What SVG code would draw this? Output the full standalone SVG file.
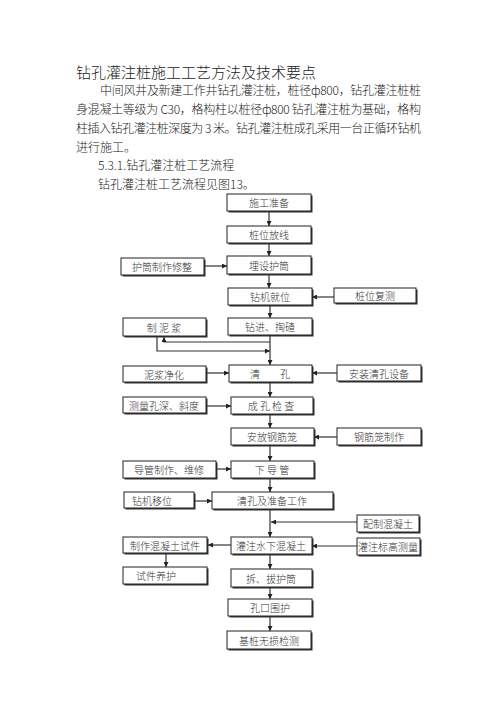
<svg xmlns="http://www.w3.org/2000/svg" width="496" height="702" viewBox="0 0 496 702">
<defs>
<marker id="ah" viewBox="0 0 10 10" refX="10" refY="5" markerWidth="5" markerHeight="5" markerUnits="userSpaceOnUse" orient="auto">
<path d="M0,0 L10,5 L0,10 z" fill="#222"/>
</marker>
</defs>
<style>
.t{font-family:"Noto Sans CJK SC","Noto Sans",sans-serif;fill:#222;font-weight:300}
.h{font-size:15px}
.p{font-size:12px}
.n rect.s{fill:#333}
.n rect.b{fill:#fff;stroke:#222;stroke-width:1}
.n text{font-family:"Noto Sans CJK SC","Noto Sans",sans-serif;font-size:10px;font-weight:300;fill:#333;text-anchor:middle;dominant-baseline:central}
#connectors path{fill:none;stroke:#333;stroke-width:1.2}
#connectors .a{marker-end:url(#ah)}
</style>
<rect width="496" height="702" fill="#fff"/>
<g id="text">
<text class="t h" x="76" y="78">钻孔灌注桩施工工艺方法及技术要点</text>
<text class="t p" x="100" y="95" textLength="321" lengthAdjust="spacing">中间风井及新建工作井钻孔灌注桩，桩径ф800，钻孔灌注桩桩</text>
<text class="t p" x="76" y="114" textLength="345" lengthAdjust="spacing">身混凝土等级为 C30，格构柱以桩径ф800 钻孔灌注桩为基础，格构</text>
<text class="t p" x="76" y="133" textLength="345" lengthAdjust="spacing">柱插入钻孔灌注桩深度为 3 米。钻孔灌注桩成孔采用一台正循环钻机</text>
<text class="t p" x="76" y="152">进行施工。</text>
<text class="t p" x="98" y="170">5.3.1.钻孔灌注桩工艺流程</text>
<text class="t p" x="98" y="189">钻孔灌注桩工艺流程见图13。</text>
</g>
<g id="connectors">
<path class="a" d="M269,211 V226"/>
<path class="a" d="M269,243 V256"/>
<path class="a" d="M205,266 H227"/>
<path class="a" d="M269,275 V288"/>
<path class="a" d="M334,297 H312"/>
<path class="a" d="M270,305 V318"/>
<path class="a" d="M270,336 V365"/>
<path class="a" d="M270,342 H164 V337"/>
<path class="a" d="M157,337 V351 H270"/>
<path class="a" d="M207,373 H229"/>
<path class="a" d="M337,373 H312"/>
<path class="a" d="M270,383 V397"/>
<path class="a" d="M207,406 H231"/>
<path class="a" d="M270,414 V428"/>
<path class="a" d="M337,437 H314"/>
<path class="a" d="M270,446 V461"/>
<path class="a" d="M217,469 H231"/>
<path class="a" d="M270,478 V492"/>
<path class="a" d="M195,501 H212"/>
<path class="a" d="M270,509 V537"/>
<path class="a" d="M357,522 H271"/>
<path class="a" d="M231,545 H208"/>
<path class="a" d="M357,546 H312"/>
<path class="a" d="M166,553 V567"/>
<path class="a" d="M270,554 V569"/>
<path class="a" d="M270,587 V599"/>
<path class="a" d="M270,617 V631"/>
</g>
<g id="n1" class="n"><rect class="s" x="228.5" y="195.5" width="84" height="17"/><rect class="b" x="227" y="194" width="84" height="17"/><text x="269" y="202.5">施工准备</text></g>
<g id="n2" class="n"><rect class="s" x="228.5" y="227.5" width="84" height="17"/><rect class="b" x="227" y="226" width="84" height="17"/><text x="269" y="234.5">桩位放线</text></g>
<g id="n3" class="n"><rect class="s" x="228.5" y="257.5" width="84" height="18"/><rect class="b" x="227" y="256" width="84" height="18"/><text x="269" y="265">埋设护筒</text></g>
<g id="n4" class="n"><rect class="s" x="229.5" y="289.5" width="84" height="17"/><rect class="b" x="228" y="288" width="84" height="17"/><text x="270" y="296.5">钻机就位</text></g>
<g id="n5" class="n"><rect class="s" x="229.5" y="319.5" width="84" height="17"/><rect class="b" x="228" y="318" width="84" height="17"/><text x="270" y="326.5">钻进、掏碴</text></g>
<g id="n6" class="n"><rect class="s" x="230.5" y="366.5" width="83" height="17"/><rect class="b" x="229" y="365" width="83" height="17"/><text x="270" y="373.5">清　　孔</text></g>
<g id="n7" class="n"><rect class="s" x="232.5" y="398.5" width="82" height="17"/><rect class="b" x="231" y="397" width="82" height="17"/><text x="271" y="405.5">成 孔 检 查</text></g>
<g id="n8" class="n"><rect class="s" x="232.5" y="429.5" width="83" height="17"/><rect class="b" x="231" y="428" width="83" height="17"/><text x="272" y="436.5">安放钢筋笼</text></g>
<g id="n9" class="n"><rect class="s" x="232.5" y="462.5" width="83" height="17"/><rect class="b" x="231" y="461" width="83" height="17"/><text x="272" y="469.5">下 导 管</text></g>
<g id="n10" class="n"><rect class="s" x="213.5" y="493.5" width="121" height="17"/><rect class="b" x="212" y="492" width="121" height="17"/><text x="272" y="500.5">清孔及准备工作</text></g>
<g id="n11" class="n"><rect class="s" x="232.5" y="538.5" width="81" height="17"/><rect class="b" x="231" y="537" width="81" height="17"/><text x="271" y="545.5">灌注水下混凝土</text></g>
<g id="n12" class="n"><rect class="s" x="232.5" y="570.5" width="81" height="18"/><rect class="b" x="231" y="569" width="81" height="18"/><text x="271" y="578">拆、拔护筒</text></g>
<g id="n13" class="n"><rect class="s" x="229.5" y="600.5" width="84" height="17"/><rect class="b" x="228" y="599" width="84" height="17"/><text x="270" y="607.5">孔口围护</text></g>
<g id="n14" class="n"><rect class="s" x="228.5" y="632.5" width="84" height="18"/><rect class="b" x="227" y="631" width="84" height="18"/><text x="269" y="640">基桩无损检测</text></g>
<g id="n15" class="n"><rect class="s" x="122.5" y="259.5" width="83" height="17"/><rect class="b" x="121" y="258" width="83" height="17"/><text x="162" y="266.5">护筒制作修整</text></g>
<g id="n16" class="n"><rect class="s" x="124.5" y="319.5" width="83" height="18"/><rect class="b" x="123" y="318" width="83" height="18"/><text x="164" y="327">制 泥 浆</text></g>
<g id="n17" class="n"><rect class="s" x="124.5" y="367.5" width="83" height="16"/><rect class="b" x="123" y="366" width="83" height="16"/><text x="164" y="374">泥浆净化</text></g>
<g id="n18" class="n"><rect class="s" x="124.5" y="398.5" width="83" height="16"/><rect class="b" x="123" y="397" width="83" height="16"/><text x="164" y="405">测量孔深、斜度</text></g>
<g id="n19" class="n"><rect class="s" x="124.5" y="462.5" width="93" height="17"/><rect class="b" x="123" y="461" width="93" height="17"/><text x="169" y="469.5">导管制作、维修</text></g>
<g id="n20" class="n"><rect class="s" x="125.5" y="493.5" width="70" height="16"/><rect class="b" x="124" y="492" width="70" height="16"/><text x="152" y="500">钻机移位</text></g>
<g id="n21" class="n"><rect class="s" x="124.5" y="538.5" width="84" height="16"/><rect class="b" x="123" y="537" width="84" height="16"/><text x="165" y="545">制作混凝土试件</text></g>
<g id="n22" class="n"><rect class="s" x="124.5" y="568.5" width="84" height="17"/><rect class="b" x="123" y="567" width="84" height="17"/><text x="156" y="575.5">试件养护</text></g>
<g id="n23" class="n"><rect class="s" x="335.5" y="289.5" width="82" height="15"/><rect class="b" x="334" y="288" width="82" height="15"/><text x="375" y="295.5">桩位复测</text></g>
<g id="n24" class="n"><rect class="s" x="338.5" y="366.5" width="84" height="16"/><rect class="b" x="337" y="365" width="84" height="16"/><text x="379" y="373">安装清孔设备</text></g>
<g id="n25" class="n"><rect class="s" x="338.5" y="429.5" width="84" height="17"/><rect class="b" x="337" y="428" width="84" height="17"/><text x="379" y="436.5">钢筋笼制作</text></g>
<g id="n26" class="n"><rect class="s" x="358.5" y="516.5" width="62" height="17"/><rect class="b" x="357" y="515" width="62" height="17"/><text x="388" y="523.5">配制混凝土</text></g>
<g id="n27" class="n"><rect class="s" x="358.5" y="539.5" width="63" height="17"/><rect class="b" x="357" y="538" width="63" height="17"/><text x="388" y="546.5">灌注标高测量</text></g>
</svg>
